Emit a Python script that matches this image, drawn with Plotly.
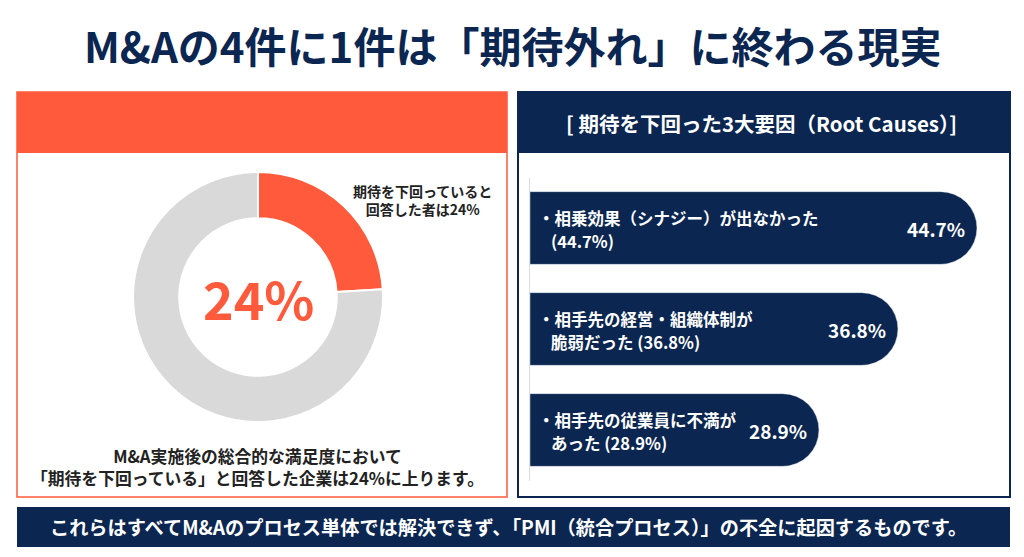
import plotly.graph_objects as go

W, H = 1024, 557

NAVY = "#0b2650"
ORANGE = "#ff5a3c"
GRAY = "#d9d9d9"
FONT = "Noto Sans CJK JP"

# data
donut_labels = ["期待を下回っている", "その他"]
donut_values = [24, 76]

cause_line1 = [
    "・相乗効果（シナジー）が出なかった",
    "・相手先の経営・組織体制が",
    "・相手先の従業員に不満が",
]
cause_line2 = [
    "(44.7%)",
    "脆弱だった (36.8%)",
    "あった (28.9%)",
]
cause_keys = ["synergy", "management", "employees"]
cause_values = [44.7, 36.8, 28.9]


def px(x):
    return x / W


def py(y):
    return 1 - y / H


fig = go.Figure()

fig.add_trace(go.Pie(
    labels=donut_labels,
    values=donut_values,
    hole=0.63,
    sort=False,
    direction="clockwise",
    rotation=0,
    marker=dict(colors=[ORANGE, GRAY], line=dict(color="white", width=2)),
    textinfo="none",
    hoverinfo="label+value",
    showlegend=False,
    domain=dict(x=[px(133), px(383)], y=[py(422), py(172)]),
))

fig.add_trace(go.Bar(
    x=cause_values,
    y=cause_keys,
    orientation="h",
    width=0.72,
    marker=dict(color=NAVY, cornerradius="50%"),
    showlegend=False,
    hoverinfo="x",
    xaxis="x", yaxis="y",
))

for l1, l2, key, val in zip(cause_line1, cause_line2, cause_keys, cause_values):
    fig.add_annotation(
        x=0, y=key, xref="x", yref="y",
        text=f"<b>{l1}</b>", showarrow=False,
        xanchor="left", xshift=6, yshift=10,
        font=dict(color="white", size=16.5, family=FONT),
    )
    fig.add_annotation(
        x=0, y=key, xref="x", yref="y",
        text=f"<b>{l2}</b>", showarrow=False,
        xanchor="left", xshift=19, yshift=-13,
        font=dict(color="white", size=16.5, family=FONT),
    )
    fig.add_annotation(
        x=val, y=key, xref="x", yref="y",
        text=f"<b>{val}%</b>", showarrow=False,
        xanchor="right", xshift=-10,
        font=dict(color="white", size=19, family=FONT),
    )

shapes = [
    # left panel
    dict(type="rect", x0=px(17), x1=px(507), y0=py(497), y1=py(92),
         line=dict(color=ORANGE, width=1.5), fillcolor="white", layer="below"),
    dict(type="rect", x0=px(17), x1=px(507), y0=py(153), y1=py(92),
         line=dict(width=0), fillcolor=ORANGE, layer="below"),
    # right panel
    dict(type="rect", x0=px(518), x1=px(1010), y0=py(497), y1=py(92),
         line=dict(color=NAVY, width=2), fillcolor="white", layer="below"),
    dict(type="rect", x0=px(518), x1=px(1010), y0=py(153), y1=py(92),
         line=dict(width=0), fillcolor=NAVY, layer="below"),
    # bottom banner
    dict(type="rect", x0=px(17), x1=px(1010), y0=py(547), y1=py(507),
         line=dict(width=0), fillcolor=NAVY, layer="below"),
]
for s in shapes:
    s.update(xref="paper", yref="paper")

annotations = [
    dict(x=0.5, y=py(45), text="<b>M&Aの4件に1件は「期待外れ」に終わる現実</b>",
         font=dict(size=42, color=NAVY)),
    dict(x=px(761), y=py(123), text="<b>[ 期待を下回った3大要因（Root Causes）]</b>",
         font=dict(size=20.5, color="white")),
    dict(x=px(258), y=py(297), text="<b>24%</b>",
         font=dict(size=52, color=ORANGE)),
    dict(x=px(422), y=py(200), text="<b>期待を下回っていると<br>回答した者は24%</b>",
         font=dict(size=14, color="#222222")),
    dict(x=px(257), y=py(467),
         text="<b>M&A実施後の総合的な満足度において<br>「期待を下回っている」と回答した企業は24%に上ります。</b>",
         font=dict(size=16.8, color="#222222")),
    dict(x=px(508), y=py(527),
         text="<b>これらはすべてM&Aのプロセス単体では解決できず、「PMI（統合プロセス）」の不全に起因するものです。</b>",
         font=dict(size=19.2, color="white")),
]
for a in annotations:
    a.update(xref="paper", yref="paper", showarrow=False,
             xanchor="center", yanchor="middle")
    a["font"]["family"] = FONT
    fig.add_annotation(**a)

fig.update_layout(
    width=W, height=H,
    margin=dict(l=0, r=0, t=0, b=0),
    paper_bgcolor="white",
    plot_bgcolor="rgba(0,0,0,0)",
    font=dict(family=FONT),
    shapes=shapes,
    xaxis=dict(domain=[px(530), px(1006)], range=[0, 47.6], visible=False, fixedrange=True),
    yaxis=dict(domain=[py(480.5), py(177.5)], categoryorder="array",
               categoryarray=cause_keys[::-1], showticklabels=False,
               showline=True, linecolor="#dddddd", linewidth=1,
               showgrid=False, zeroline=False, ticks="", fixedrange=True),
    bargap=0.28,
)

fig.write_html(
    "out.html",
    config={"displayModeBar": False},
    post_script="document.body.style.margin='0';document.body.style.overflow='hidden';",
)
